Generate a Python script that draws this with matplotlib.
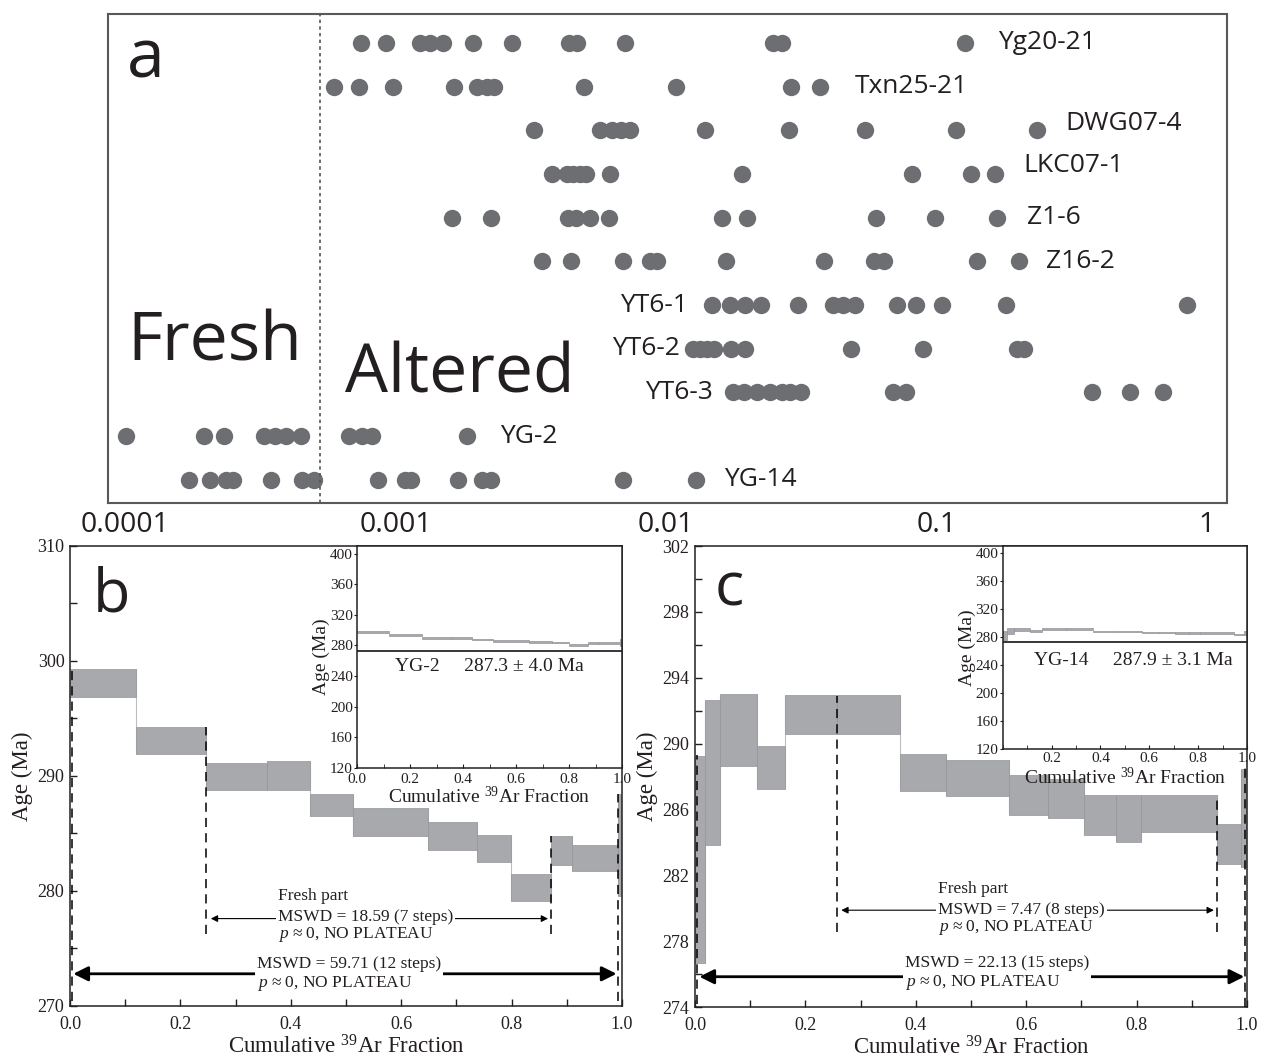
import numpy as np
import matplotlib.pyplot as plt
from matplotlib.ticker import MultipleLocator, NullLocator

SANS = ['Open Sans', 'DejaVu Sans']
SERIF = ['Liberation Serif', 'DejaVu Serif']
plt.rcParams['font.family'] = SERIF
plt.rcParams['mathtext.fontset'] = 'custom'
plt.rcParams['mathtext.rm'] = 'Liberation Serif'
plt.rcParams['mathtext.it'] = 'Liberation Serif:italic'

DOT = '#6d6e71'
STEP = '#a7a9ac'
INK = '#231f20'

# ---- panel a : step fractions per sample (log scale) ----
samples = ['Yg20-21', 'Txn25-21', 'DWG07-4', 'LKC07-1', 'Z1-6', 'Z16-2',
           'YT6-1', 'YT6-2', 'YT6-3', 'YG-2', 'YG-14']
yg20_21 = [7.46e-4, 9.22e-4, 1.23e-3, 1.34e-3, 1.50e-3, 1.93e-3, 2.70e-3, 4.38e-3,
           4.69e-3, 7.05e-3, 2.49e-2, 2.68e-2, 0.127]
txn25_21 = [5.93e-4, 7.33e-4, 9.79e-4, 1.65e-3, 2.00e-3, 2.18e-3, 2.31e-3, 4.98e-3,
            1.09e-2, 2.90e-2, 3.71e-2]
dwg07_4 = [3.25e-3, 5.70e-3, 6.32e-3, 6.82e-3, 7.36e-3, 1.39e-2, 2.85e-2, 5.44e-2,
           0.118, 0.235]
lkc07_1 = [3.79e-3, 4.31e-3, 4.53e-3, 4.81e-3, 5.06e-3, 6.21e-3, 1.91e-2, 8.12e-2,
           0.134, 0.165]
z1_6 = [1.62e-3, 2.25e-3, 4.34e-3, 4.65e-3, 5.24e-3, 6.16e-3, 1.61e-2, 1.99e-2,
        5.98e-2, 9.87e-2, 0.167]
z16_2 = [3.48e-3, 4.45e-3, 6.93e-3, 8.73e-3, 9.26e-3, 1.67e-2, 3.84e-2, 5.87e-2,
         6.40e-2, 0.141, 0.202]
yt6_1 = [1.48e-2, 1.72e-2, 1.96e-2, 2.25e-2, 3.08e-2, 4.14e-2, 4.51e-2, 5.00e-2,
         7.14e-2, 8.40e-2, 0.105, 0.181, 0.844]
yt6_2 = [1.26e-2, 1.34e-2, 1.42e-2, 1.51e-2, 1.74e-2, 1.96e-2, 4.83e-2, 8.91e-2,
         0.198, 0.211]
yt6_3 = [1.77e-2, 1.94e-2, 2.17e-2, 2.42e-2, 2.68e-2, 2.87e-2, 3.16e-2, 6.91e-2,
         7.71e-2, 0.376, 0.519, 0.688]
yg_2 = [1.01e-4, 1.96e-4, 2.32e-4, 3.27e-4, 3.59e-4, 3.94e-4, 4.47e-4, 6.73e-4,
        7.52e-4, 8.19e-4, 1.84e-3]
yg_14 = [1.72e-4, 2.06e-4, 2.36e-4, 2.51e-4, 3.47e-4, 4.51e-4, 5.00e-4, 8.62e-4,
         1.08e-3, 1.14e-3, 1.70e-3, 2.09e-3, 2.25e-3, 6.93e-3, 1.29e-2]
rows = [yg20_21, txn25_21, dwg07_4, lkc07_1, z1_6, z16_2, yt6_1, yt6_2, yt6_3, yg_2, yg_14]
fresh_cut = 5.26e-4
decades = [1e-4, 1e-3, 1e-2, 1e-1, 1]
decade_labels = ['0.0001', '0.001', '0.01', '0.1', '1']

# ---- panel b : YG-2 age spectrum ----
b_edges = [0.0, 0.120, 0.246, 0.356, 0.434, 0.513, 0.649, 0.737, 0.799, 0.871, 0.909, 0.993, 1.0]
b_hi = [299.3, 294.3, 291.15, 291.3, 288.4, 287.25, 286.0, 284.9, 281.5, 284.8, 284.0, 288.4]
b_lo = [296.85, 291.95, 288.75, 288.75, 286.5, 284.8, 283.6, 282.5, 279.1, 282.3, 281.7, 279.6]

# ---- panel c : YG-14 age spectrum ----
c_edges = [0.0, 0.019, 0.0445, 0.1117, 0.1628, 0.2577, 0.3708, 0.4547, 0.5693, 0.6394,
           0.7044, 0.7628, 0.8088, 0.9453, 0.989, 1.0]
c_hi = [289.26, 292.62, 293.03, 289.85, 292.93, 292.93, 289.36, 289.03, 288.07, 287.87,
        286.89, 286.89, 286.89, 285.12, 288.48]
c_lo = [276.65, 283.81, 288.64, 287.26, 290.56, 290.56, 287.15, 286.83, 285.65, 285.46,
        284.44, 284.04, 284.63, 282.67, 282.5]

fig = plt.figure(figsize=(12.62, 10.59), dpi=100)

# ================= panel a =================
axa = fig.add_axes([0.0856, 0.525, 0.8867, 0.4618])
for i, vals in enumerate(rows):
    axa.plot(vals, [i] * len(vals), 'o', ms=12.5, color=DOT, mec='none')
axa.set_xscale('log')
axa.set_xlim(8.65e-5, 1.186)
axa.set_ylim(10.53, -0.66)
axa.axvline(fresh_cut, color='#555555', lw=1.2, ls=(0, (2, 2)))
axa.set_yticks([])
axa.set_xticks(decades)
axa.set_xticklabels(decade_labels)
axa.xaxis.set_minor_locator(NullLocator())
axa.tick_params(axis='x', length=0, pad=6, labelsize=20.5, labelcolor=INK)
for lab in axa.get_xticklabels():
    lab.set_fontfamily(SANS)
for sp in axa.spines.values():
    sp.set_color('#58595b')
    sp.set_linewidth(1.5)

# sample names: offset in pixels from first/last dot
label_dx = [33, 35, 28, 28, 30, 27, -24, -13, -20, 33, 28]
label_dy = [0, 0, 7, 8, 0, 0, 0, 0, 0, 0, 0]
for i, (name, vals) in enumerate(zip(samples, rows)):
    dx = label_dx[i]
    anchor = vals[-1] if dx > 0 else vals[0]
    axa.annotate(name, xy=(anchor, i), xytext=(dx, label_dy[i]), textcoords='offset pixels',
                 ha='left' if dx > 0 else 'right', va='center', fontsize=19,
                 family=SANS, color=INK)

axa.text(0.017, 0.871, 'a', transform=axa.transAxes, fontsize=49, family=SANS,
         color=INK, va='baseline')
axa.text(0.017, 0.292, 'Fresh', transform=axa.transAxes, fontsize=49, family=SANS,
         color=INK, va='baseline')
axa.text(0.2118, 0.227, 'Altered', transform=axa.transAxes, fontsize=49, family=SANS,
         color=INK, va='baseline')


def draw_steps(ax, edges, hi, lo, connect=True):
    edges = np.array(edges)
    hi = np.array(hi)
    lo = np.array(lo)
    if connect:
        for k in range(1, len(hi)):
            ax.vlines(edges[k], min(lo[k - 1], lo[k]), max(hi[k - 1], hi[k]),
                      color='#bcbec0', lw=0.8, zorder=1)
    ax.bar(edges[:-1], hi - lo, width=np.diff(edges), bottom=lo, align='edge',
           color=STEP, edgecolor='#939598', linewidth=0.5, zorder=2)


def style_main(ax, yticks, yminor):
    ax.set_xlim(0, 1)
    ax.xaxis.set_major_locator(MultipleLocator(0.2))
    ax.xaxis.set_minor_locator(MultipleLocator(0.1))
    ax.set_yticks(yticks)
    ax.set_yticks(yminor, minor=True)
    ax.tick_params(which='both', direction='in', length=5, width=1, labelsize=13,
                   colors=INK)
    ax.tick_params(axis='x', pad=7)
    ax.tick_params(axis='y', pad=4)
    ax.xaxis.set_major_formatter('{x:.1f}')
    for sp in ax.spines.values():
        sp.set_linewidth(1.1)
        sp.set_color(INK)
    ax.set_ylabel('Age (Ma)', fontsize=16.5, labelpad=3, color=INK)
    ax.set_xlabel(r'Cumulative $^{39}$Ar Fraction', fontsize=16.5, labelpad=2, color=INK)


def style_inset(ax, ylims, show_zero=True, xpad=2, xlabelpad=-1):
    ax.set_xlim(0, 1)
    ax.set_ylim(*ylims)
    ax.xaxis.set_minor_locator(MultipleLocator(0.1))
    ax.set_xticks(np.arange(0, 1.01, 0.2) if show_zero else np.arange(0.2, 1.01, 0.2))
    ax.xaxis.set_major_formatter('{x:.1f}')
    ax.yaxis.set_major_locator(MultipleLocator(40))
    ax.tick_params(axis='x', which='both', direction='in', length=3, labelsize=11, pad=xpad,
                   colors=INK)
    ax.tick_params(axis='y', direction='out', length=2, labelsize=11, pad=1, colors=INK)
    for sp in ax.spines.values():
        sp.set_linewidth(1.1)
        sp.set_color(INK)
    ax.set_ylabel('Age (Ma)', fontsize=14, labelpad=0, color=INK)
    ax.set_xlabel(r'Cumulative $^{39}$Ar Fraction', fontsize=14, labelpad=xlabelpad,
                  color=INK)


def dashes(ax, xs, tops, bottoms):
    for x, t, b in zip(xs, tops, bottoms):
        ax.vlines(x, b, t, colors='black', lw=1.1, linestyles=(0, (6, 4)), zorder=3)


def arrow(ax, x0, x1, y, thick):
    ax.annotate('', xy=(x0, y), xytext=(x1, y),
                arrowprops=dict(arrowstyle='<|-|>', color='black',
                                lw=2.0 if thick else 0.8,
                                mutation_scale=22 if thick else 10,
                                shrinkA=0, shrinkB=0), zorder=3)


WHITE = dict(facecolor='white', edgecolor='none', pad=1.5)

# ================= panel b =================
axb = fig.add_axes([0.0555, 0.05005, 0.4374, 0.4344])
draw_steps(axb, b_edges, b_hi, b_lo)
axb.set_ylim(270, 310)
style_main(axb, np.arange(270, 311, 10), np.arange(275, 310, 10))
dashes(axb, [0.004, 0.246, 0.871, 0.993], [299.3, 294.3, 284.8, 288.4],
       [270.4, 276.3, 276.3, 270.4])
arrow(axb, 0.255, 0.866, 277.6, False)
arrow(axb, 0.006, 0.99, 272.8, True)
axb.text(0.376, 279.6, 'Fresh part', fontsize=12.5, va='center', color=INK)
axb.text(0.376, 277.75, 'MSWD = 18.59 (7 steps)', fontsize=12.5, va='center', color=INK,
         bbox=WHITE, zorder=4)
axb.text(0.376, 276.2, r'$p$ ≈ 0, NO PLATEAU', fontsize=12.5, va='center', color=INK)
axb.text(0.338, 272.7, 'MSWD = 59.71 (12 steps)\n' + r'$p$ ≈ 0, NO PLATEAU', fontsize=12.5,
         va='center', color=INK, linespacing=1.15, bbox=WHITE, zorder=4)
axb.text(0.042, 0.857, 'b', transform=axb.transAxes, fontsize=44, family=SANS,
         color=INK, va='baseline')

insb = fig.add_axes([0.2829, 0.2751, 0.2100, 0.2093])
draw_steps(insb, b_edges, b_hi, b_lo, connect=False)
insb.axhline(272.4, color='black', lw=1.1)
style_inset(insb, (120, 410), xpad=4, xlabelpad=0)
insb.text(0.5, 252, 'YG-2     287.3 ± 4.0 Ma', ha='center', va='center', fontsize=14,
          color=INK)

# ================= panel c =================
axc = fig.add_axes([0.5507, 0.0491, 0.4374, 0.4353])
draw_steps(axc, c_edges, c_hi, c_lo)
axc.set_ylim(274, 302)
style_main(axc, np.arange(274, 303, 4), np.arange(276, 302, 4))
dashes(axc, [0.004, 0.258, 0.9453, 0.997], [289.3, 292.9, 286.9, 288.5],
       [274.2, 278.55, 278.55, 274.0])
arrow(axc, 0.265, 0.94, 279.88, False)
arrow(axc, 0.008, 0.995, 275.84, True)
axc.text(0.44, 281.14, 'Fresh part', fontsize=12.5, va='center', color=INK)
axc.text(0.44, 279.92, 'MSWD = 7.47 (8 steps)', fontsize=12.5, va='center', color=INK,
         bbox=WHITE, zorder=4)
axc.text(0.44, 278.8, r'$p$ ≈ 0, NO PLATEAU', fontsize=12.5, va='center', color=INK)
axc.text(0.38, 276.05, 'MSWD = 22.13 (15 steps)\n' + r'$p$ ≈ 0, NO PLATEAU', fontsize=12.5,
         va='center', color=INK, linespacing=1.15, bbox=WHITE, zorder=4)
axc.text(0.036, 0.871, 'c', transform=axc.transAxes, fontsize=44, family=SANS,
         color=INK, va='baseline')

insc = fig.add_axes([0.7945, 0.2924, 0.1936, 0.1920])
draw_steps(insc, c_edges, c_hi, c_lo, connect=False)
insc.axhline(273, color='black', lw=1.1)
style_inset(insc, (120, 410), show_zero=False, xlabelpad=1)
insc.text(0.535, 247, 'YG-14     287.9 ± 3.1 Ma', ha='center', va='center', fontsize=14,
          color=INK)

fig.savefig('out.png', dpi=100)
